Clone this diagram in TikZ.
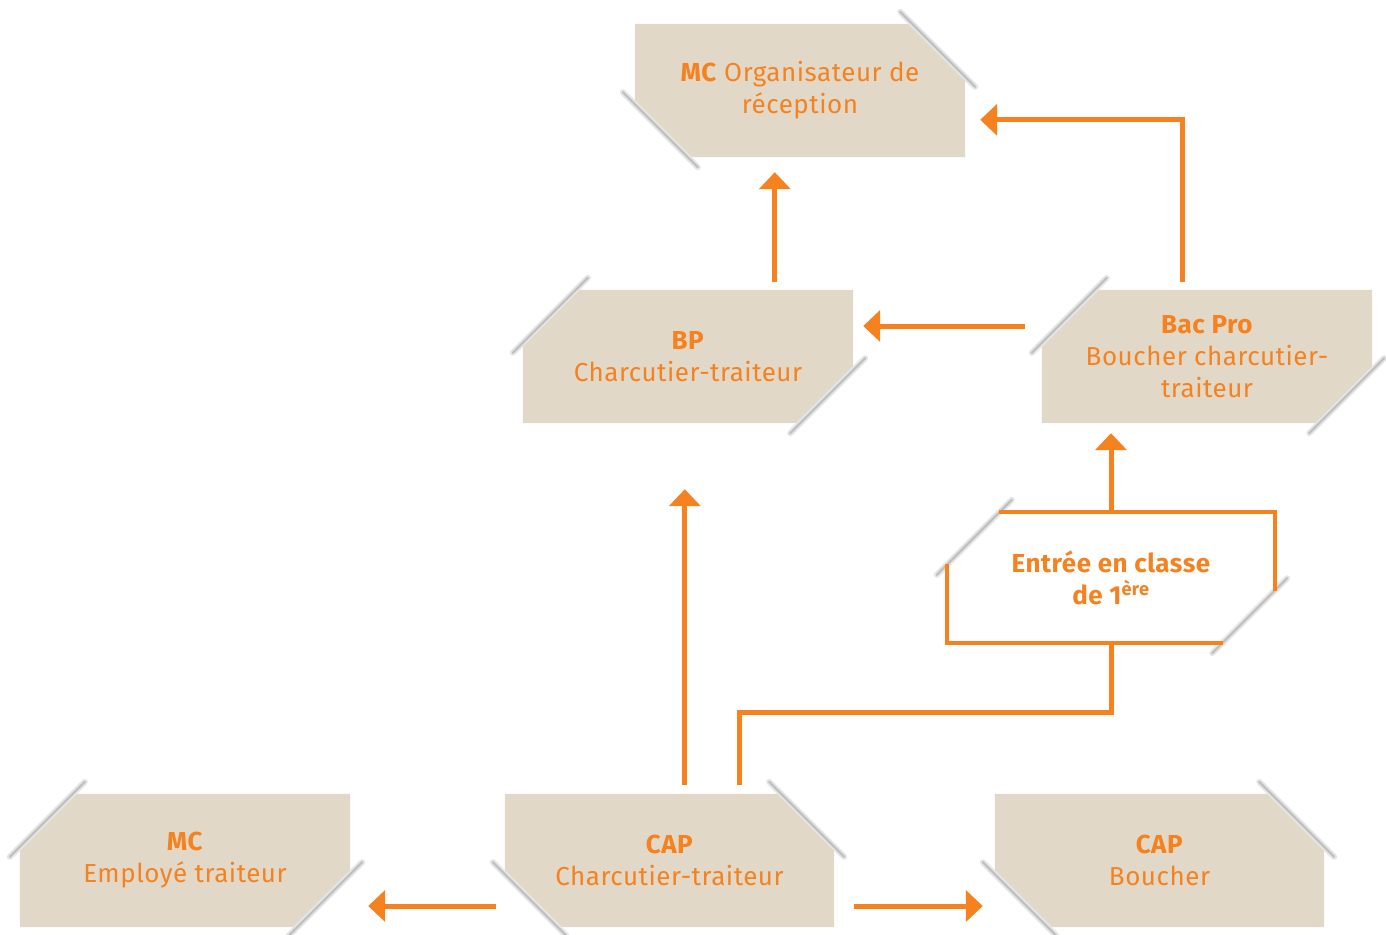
\documentclass[tikz,border=0pt]{standalone}
\usepackage{fontspec}
\setmainfont{Fira Sans}[LetterSpace=2]
\usetikzlibrary{calc,arrows.meta,backgrounds}
\definecolor{orng}{RGB}{245,130,31}
\definecolor{beige}{RGB}{226,216,199}
\tikzset{
  boxtext/.style={align=center, text=orng, font=\fontsize{26}{32}\selectfont,
    minimum width=330, minimum height=133, inner sep=0},
  boxfill/.style={fill=beige},
  shadowA/.style={draw=gray!20, line width=6pt, line cap=round},
  shadowB/.style={draw=gray!50, line width=2.2pt, line cap=round},
  arr/.style={draw=orng, line width=5pt, -{Triangle[width=31pt,length=17pt]}},
  conn/.style={draw=orng, line width=5pt},
  frame/.style={draw=orng, line width=4pt}
}
% top-right and bottom-left cut ("\")
\newcommand{\cutBS}[2][boxfill]{%
  \fill[#1] (#2.north west) -- ($(#2.north east)+(-53,0)$) -- ($(#2.north east)+(0,53)$)
    -- (#2.south east) -- ($(#2.south west)+(53,0)$) -- ($(#2.south west)+(0,-53)$) -- cycle;
  \foreach \s in {shadowA,shadowB}{
    \draw[\s] ($(#2.north east)+(-65,-12)$) -- ($(#2.north east)+(10,63)$);
    \draw[\s] ($(#2.south west)+(-12,-65)$) -- ($(#2.south west)+(63,10)$);
  }%
}
% top-left and bottom-right cut ("/")
\newcommand{\cutFS}[2][boxfill]{%
  \fill[#1] (#2.north east) -- ($(#2.south east)+(0,-53)$) -- ($(#2.south east)+(-53,0)$)
    -- (#2.south west) -- ($(#2.north west)+(0,53)$) -- ($(#2.north west)+(53,0)$) -- cycle;
  \foreach \s in {shadowA,shadowB}{
    \draw[\s] ($(#2.north west)+(65,-12)$) -- ($(#2.north west)+(-10,63)$);
    \draw[\s] ($(#2.south east)+(12,-65)$) -- ($(#2.south east)+(-63,10)$);
  }%
}
\begin{document}
\begin{tikzpicture}[x=1pt,y=-1pt]
\useasboundingbox (0,0) rectangle (1386,934);
% nodes
\node[boxtext] (mc) at (800,90.5) {\textbf{MC} Organisateur de\\réception};
\node[boxtext] (bp) at (688,356.5) {\textbf{BP}\\Charcutier-traiteur};
\node[boxtext] (bac) at (1207,356.5) {\textbf{Bac Pro}\\Boucher charcutier-\\traiteur};
\node[boxtext, minimum width=328, minimum height=131, font=\bfseries\fontsize{26}{32}\selectfont] (ent) at (1111,577.5) {Entrée en classe\\de 1\textsuperscript{ère}};
\node[boxtext] (mce) at (185,860.5) {\textbf{MC}\\Employé traiteur};
\node[boxtext, minimum width=329] (cap) at (669.5,860.5) {\textbf{CAP}\\Charcutier-traiteur};
\node[boxtext, minimum width=329] (capb) at (1159.5,860.5) {\textbf{CAP}\\Boucher};
\begin{scope}[on background layer]
  \cutBS{mc}
  \cutFS{bp}
  \cutFS{bac}
  \cutFS[fill=white]{ent}
  \draw[frame] ($(ent.north west)+(52,0)$) -- (ent.north east) -- ($(ent.south east)+(0,-52)$);
  \draw[frame] ($(ent.south east)+(-52,0)$) -- (ent.south west) -- ($(ent.north west)+(0,52)$);
  \cutFS{mce}
  \cutBS{cap}
  \cutBS{capb}
\end{scope}
% connectors
\draw[arr] ($(bac.north west)+(141,-8)$) |- ($(mc.north east)+(15,96)$);
\draw[arr] ($(bp.north west)+(252,-8)$) -- ($(mc.south west)+(140,15)$);
\draw[arr] ($(bac.west)+(-17,-30.5)$) -- ($(bp.east)+(10,-30.5)$);
\draw[arr] (ent.north) -- ($(bac.south)+(-96,10)$);
\draw[arr] ($(cap.north west)+(180,-9)$) -- ($(bp.south west)+(162,66)$);
\draw[conn] ($(cap.north west)+(235,-9)$) -- ++(0,-72) -| (ent.south);
\draw[arr] ($(cap.west)+(-9,45.5)$) -- ($(mce.east)+(18,45.5)$);
\draw[arr] ($(cap.east)+(20,45.5)$) -- ($(capb.west)+(-12,45.5)$);
\end{tikzpicture}
\end{document}
